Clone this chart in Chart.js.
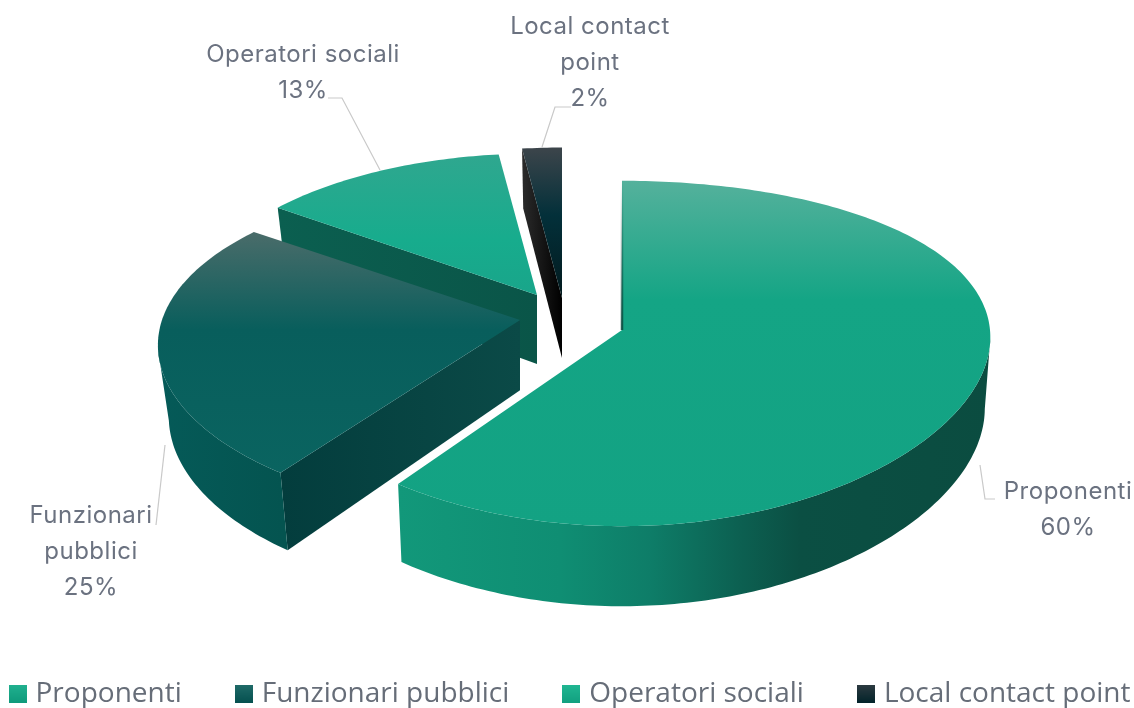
<!DOCTYPE html>
<html>
<head>
<meta charset="utf-8">
<title>Partecipanti</title>
<script src="https://cdn.jsdelivr.net/npm/chart.js@4"></script>
<style>
  html, body { margin: 0; padding: 0; background: #fff; width: 1134px; height: 708px; overflow: hidden; }
  /* canvas is wider and taller than the page so the legend row keeps its wide gaps on one line */
  #pie { position: absolute; left: -58px; top: 0; }
</style>
</head>
<body>
<canvas id="pie" width="1260" height="718"></canvas>
<script>
const categories = ['Proponenti', 'Funzionari pubblici', 'Operatori sociali', 'Local contact point'];
const percentages = [60, 25, 13, 2];
const labelLines = [['Proponenti', '60%'], ['Funzionari', 'pubblici', '25%'], ['Operatori sociali', '13%'], ['Local contact', 'point', '2%']];

const pageShift = 58;
const legendColors = [['#21b08f', '#0f9a7b'], ['#1f6a68', '#05504f'], ['#20b692', '#12a080'], ['#2c3a40', '#02232a']];

// per slice: where its tip sits on the page, its radii, perspective and its shading
const sliceStyles = [
  { ax: 622, ay: 330, rx: 368, ry: 169.5, kx: 0.042, ky: 0.136, shrink: 0.985, top: [[180, '#55b19c'], [300, '#14a585'], [530, '#13a283']],
    wall: [[398, '#12987a'], [560, '#0f8e73'], [650, '#0e7d68'], [740, '#0c6051'], [800, '#0b4f43'], [992, '#0b4c40']], radial: ['#0b4c40', '#0b4c40'], sliver: true },
  { ax: 520, ay: 320, rx: 358, ry: 164, kx: 0.15, ky: 0.163, shrink: 0.97, top: [[232, '#4a6c6a'], [330, '#085e5c'], [475, '#0a6460']],
    wall: [[158, '#055a58'], [283, '#045450']], radial: ['#033d3d', '#0b4a47'] },
  { ax: 537, ay: 295, rx: 345, ry: 160, kx: 0.13, ky: 0.13, shrink: 0.97, top: [[155, '#2fa78f'], [240, '#17ac8d'], [295, '#19a58a']],
    wall: [[278, '#0b5f50'], [537, '#0a5a4d']], radial: ['#0b5f50', '#0a5548'] },
  { ax: 562, ay: 298, rx: 360, ry: 170, kx: 0.13, ky: 0.13, shrink: 0.97, depth: 60, top: [[147, '#3d454b'], [215, '#03303a'], [298, '#021a1e']],
    wall: [[523, '#222'], [562, '#000']], radial: ['#2b2b2b', '#000000'] }
];
const labelPlaces = [
  { x: 1068, y: 492 }, { x: 91, y: 516 }, { x: 303, y: 55 }, { x: 590, y: 27 }
];
const leaderLines = [
  [[980, 465], [985, 499], [995, 499]],
  [[165, 445], [156, 525]],
  [[328, 98], [342, 98], [380, 170]],
  [[571, 107], [555, 107], [542, 147]]
];

function project(st, theta) {
  const u = Math.sin(theta), v = -Math.cos(theta);
  return { x: st.ax + st.rx * u / (1 - st.kx * v), y: st.ay + st.ry * v / (1 - st.ky * v) };
}

function depthAt(st, y) {
  return st.depth || 62 + (y - 150) * 18 / 375;
}

function dropped(st, p) {
  return { x: st.ax + (p.x - st.ax) * st.shrink, y: p.y + depthAt(st, p.y) };
}

function stops(grad, list, from, to) {
  list.forEach(s => grad.addColorStop(Math.min(1, Math.max(0, (s[0] - from) / (to - from))), s[1]));
  return grad;
}

function fillPoly(ctx, pts, style) {
  ctx.beginPath();
  pts.forEach((p, i) => i ? ctx.lineTo(p.x, p.y) : ctx.moveTo(p.x, p.y));
  ctx.closePath();
  ctx.fillStyle = style;
  ctx.fill();
}

function drawSlice(ctx, arc, st) {
  const a0 = arc.startAngle + Math.PI / 2, a1 = arc.endAngle + Math.PI / 2;
  const apex = { x: st.ax, y: st.ay };
  const rim = [];
  const n = Math.max(4, Math.round((a1 - a0) * 60));
  for (let i = 0; i <= n; i++) rim.push(project(st, a0 + (a1 - a0) * i / n));

  // walls that face the viewer (going round clockwise, x gets smaller)
  const first = rim[0];
  if (first.x < apex.x - 0.5) {
    const g = stops(ctx.createLinearGradient(first.x, 0, apex.x, 0), [[first.x, st.radial[0]], [apex.x, st.radial[1]]], first.x, apex.x);
    fillPoly(ctx, [apex, first, dropped(st, first), dropped(st, apex)], g);
  }
  const front = rim.filter((p, i) => (i < n && rim[i + 1].x < p.x) || (i === n && rim[i - 1].x > p.x));
  if (front.length > 1) {
    const xs = st.wall.map(s => s[0]);
    const g = stops(ctx.createLinearGradient(xs[0], 0, xs[xs.length - 1], 0), st.wall, xs[0], xs[xs.length - 1]);
    fillPoly(ctx, front.concat(front.map(p => dropped(st, p)).reverse()), g);
  }

  // top face
  const ys = st.top.map(s => s[0]);
  const tg = stops(ctx.createLinearGradient(0, ys[0], 0, ys[ys.length - 1]), st.top, ys[0], ys[ys.length - 1]);
  fillPoly(ctx, [apex].concat(rim), tg);

  // thin dark edge down the straight side of the big slice
  if (st.sliver) {
    const sg = ctx.createLinearGradient(0, first.y, 0, apex.y);
    sg.addColorStop(0, 'rgba(11,76,64,0)');
    sg.addColorStop(1, 'rgba(11,76,64,0.9)');
    ctx.strokeStyle = sg;
    ctx.lineWidth = 2.5;
    ctx.beginPath();
    ctx.moveTo(first.x, first.y);
    ctx.lineTo(apex.x, apex.y);
    ctx.stroke();
  }
}

const pie3d = {
  id: 'pie3d',
  beforeDatasetsDraw(chart) {
    const ctx = chart.ctx;
    const arcs = chart.getDatasetMeta(0).data;
    ctx.save();
    ctx.translate(pageShift, 0);
    // back slices first, the big one last
    [3, 2, 1, 0].forEach(i => drawSlice(ctx, arcs[i], sliceStyles[i]));

    ctx.strokeStyle = '#c9c9c9';
    ctx.lineWidth = 1.2;
    leaderLines.forEach(line => {
      ctx.beginPath();
      line.forEach((p, i) => i ? ctx.lineTo(p[0], p[1]) : ctx.moveTo(p[0], p[1]));
      ctx.stroke();
    });

    ctx.fillStyle = '#6b7280';
    ctx.font = '24px Inter';
    ctx.letterSpacing = '0.5px';
    ctx.textAlign = 'center';
    ctx.textBaseline = 'middle';
    labelLines.forEach((lines, i) => {
      lines.forEach((t, j) => ctx.fillText(t, labelPlaces[i].x, labelPlaces[i].y + j * 36));
    });
    ctx.restore();
    return false;
  }
};

function legendMark(colors) {
  const c = document.createElement('canvas');
  c.width = 18; c.height = 18;
  const x = c.getContext('2d');
  const g = x.createLinearGradient(0, 0, 0, 18);
  g.addColorStop(0, colors[0]);
  g.addColorStop(1, colors[1]);
  x.fillStyle = g;
  x.fillRect(0, 0, 18, 18);
  return c;
}
const legendMarks = legendColors.map(legendMark);

new Chart(document.getElementById('pie'), {
  type: 'pie',
  data: {
    labels: categories,
    datasets: [{
      data: percentages,
      backgroundColor: legendColors.map(c => c[1]),
      borderWidth: 0
    }]
  },
  options: {
    responsive: false,
    animation: false,
    plugins: {
      tooltip: { enabled: false },
      legend: {
        position: 'bottom',
        labels: {
          usePointStyle: true,
          pointStyleWidth: 8,
          padding: 58,
          color: '#666d78',
          font: { family: '"Open Sans"', size: 28 },
          generateLabels(chart) {
            const items = Chart.overrides.pie.plugins.legend.labels.generateLabels(chart);
            items.forEach((it, i) => { it.pointStyle = legendMarks[i]; });
            return items;
          }
        }
      }
    }
  },
  plugins: [pie3d]
});
</script>
</body>
</html>
